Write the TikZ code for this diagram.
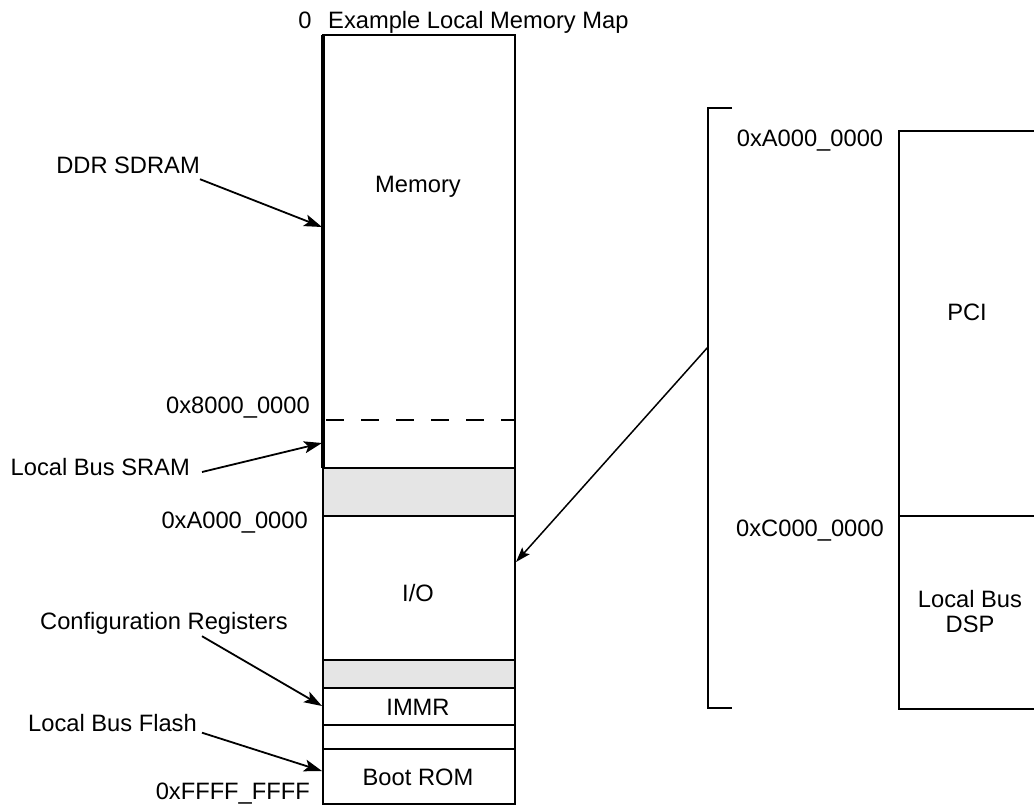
\documentclass[tikz,border=0pt]{standalone}
\usepackage{fontspec}
\setmainfont{Liberation Sans}
\usetikzlibrary{arrows.meta}
\begin{document}
\begin{tikzpicture}[x=1pt,y=-1pt,
  font=\fontsize{23.7}{25}\selectfont,
  lbl/.style={inner sep=0pt, text height=17pt, text depth=0pt},
  region/.style={draw, line width=2pt, inner sep=0pt, outer sep=0pt,
                 minimum width=192pt, anchor=north west},
  shaded/.style={region, fill=black!10},
  ptr/.style={line width=1.8pt, -{Stealth[length=18pt,width=12pt,inset=4pt]}},
  longptr/.style={line width=1.5pt, -{Stealth[length=15pt,width=10pt,inset=3pt]}},
  rule/.style={line width=2pt}]
\useasboundingbox (0,0) rectangle (1034,806);

% main column
\node[region, minimum height=433pt] (mem) at (323,35) {};
\node[shaded, minimum height=48pt] (gapa) at (323,468) {};
\node[region, minimum height=144pt] (io) at (323,516) {};
\node[shaded, minimum height=28pt] (gapb) at (323,660) {};
\node[region, minimum height=37pt] (immr) at (323,688) {};
\node[region, minimum height=24pt] (blank) at (323,725) {};
\node[region, minimum height=55pt] (boot) at (323,749) {};

\coordinate (dashy) at (0,420);
\draw[line width=2pt, dash pattern=on 18pt off 17pt] ([xshift=3pt]mem.west |- dashy) -- (mem.east |- dashy);
\draw[line width=4.5pt] (mem.north west) -- (mem.south west);

% texts in column
\node[lbl] (zero) at (305,19.5) {0};
\node[lbl, anchor=west] (title) at (328,19.5) {Example Local Memory Map};
\node[lbl] (memt) at (418,184) {Memory};
\node[lbl] (iot) at (418,593) {I/O};
\node[lbl] (immrt) at (418,706.5) {IMMR};
\node[lbl] (boott) at (418,777) {Boot ROM};

% addresses left
\node[lbl, anchor=east] (a8) at (310,405) {0x8000\_0000};
\node[lbl, anchor=east] (aA) at (308,520) {0xA000\_0000};
\node[lbl, anchor=east] (aF) at (310,791) {0xFFFF\_FFFF};

% left labels
\node[lbl, anchor=east] (ddr) at (200,165) {DDR SDRAM};
\node[lbl, anchor=east] (sram) at (190,467) {Local Bus SRAM};
\node[lbl, anchor=east] (cfg) at (288,621) {Configuration Registers};
\node[lbl, anchor=east] (flash) at (197,723) {Local Bus Flash};

\coordinate (ddrtip) at (322,227);
\coordinate (sramtip) at (322,443);
\coordinate (cfgtip) at (322,706);
\coordinate (flashtip) at (322,771);

\draw[ptr] ([yshift=-5.5pt]ddr.south east) -- (ddrtip);
\draw[ptr] ([xshift=12pt,yshift=-5pt]sram.east) -- (sramtip);
\draw[ptr] ([xshift=-86pt,yshift=-6.5pt]cfg.south east) -- (cfgtip);
\draw[ptr] ([xshift=5pt,yshift=-1pt]flash.south east) -- (flashtip);

% bracket
\coordinate (bt) at (732,108);
\coordinate (bb) at (732,708);
\draw[rule] (bt) -- (708,108) -- (708,708) -- (bb);
\coordinate (bmid) at (708,347);
\coordinate (iotip) at (516,562);
\draw[longptr] (bmid) -- (iotip);

% right expanded map
\draw[rule] (1034,131) -- (899,131) -- (899,709) -- (1034,709);
\draw[rule] (899,516) -- (1034,516);
\node[lbl] (rA) at (810,138) {0xA000\_0000};
\node[lbl] (rC) at (810,528) {0xC000\_0000};
\node[lbl] (pci) at (967,312) {PCI};
\node[align=center, inner sep=0pt] (dsp) at (970,612) {Local Bus\\DSP};
\end{tikzpicture}
\end{document}
